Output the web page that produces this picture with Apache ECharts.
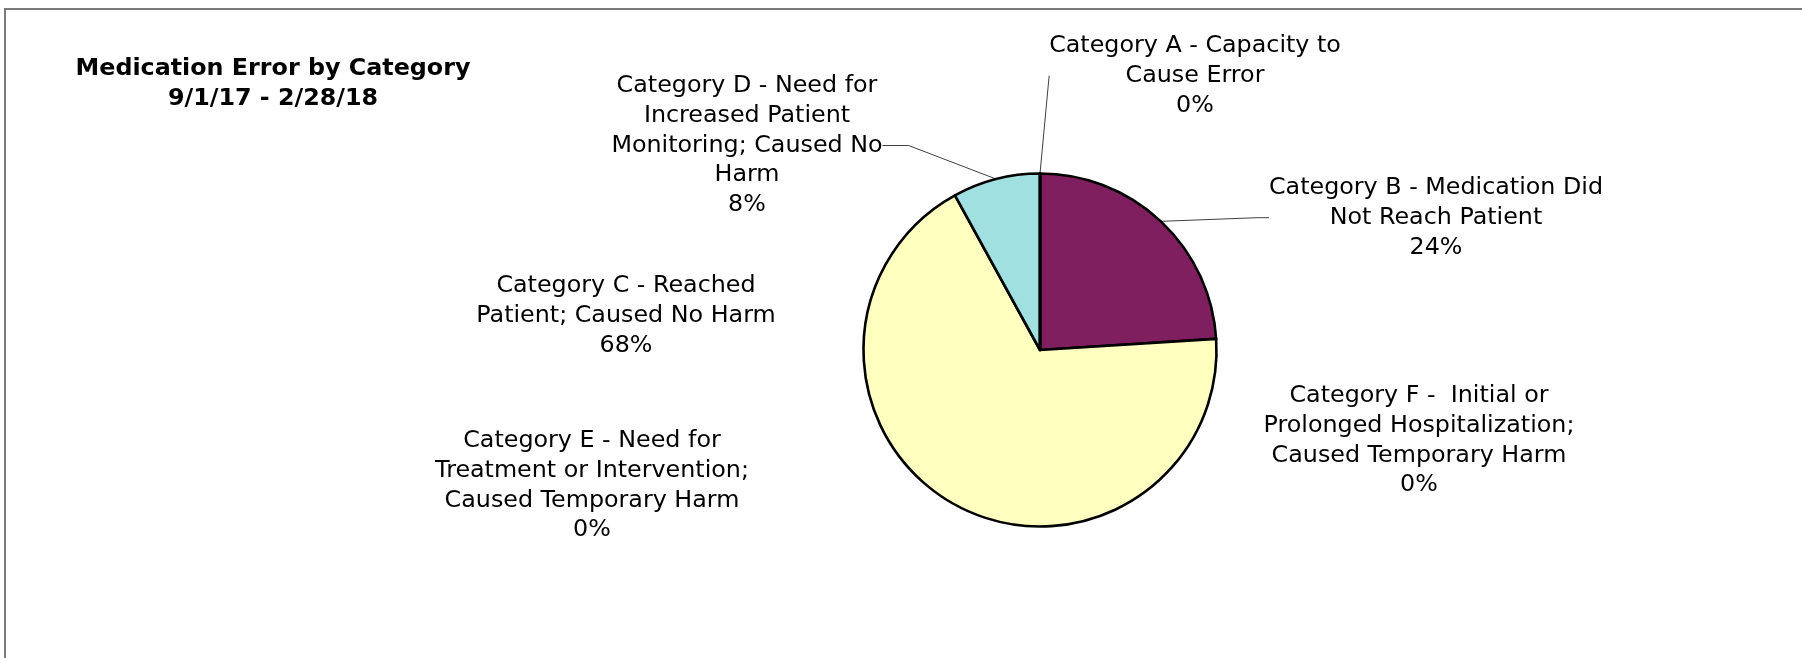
<!DOCTYPE html>
<html>
<head>
<meta charset="utf-8">
<script src="https://cdn.jsdelivr.net/npm/echarts@6/dist/echarts.min.js"></script>
<style>
  html, body { margin: 0; padding: 0; background: #ffffff; }
  #chart { width: 1802px; height: 658px; }
</style>
</head>
<body>
<div id="chart"></div>
<script>
// ---- data ----
const titleLines = ['Medication Error by Category', '9/1/17 - 2/28/18'];
const categories = [
  'Category A - Capacity to\nCause Error',
  'Category B - Medication Did\nNot Reach Patient',
  'Category C - Reached\nPatient; Caused No Harm',
  'Category D - Need for\nIncreased Patient\nMonitoring; Caused No\nHarm',
  'Category E - Need for\nTreatment or Intervention;\nCaused Temporary Harm',
  'Category F -  Initial or\nProlonged Hospitalization;\nCaused Temporary Harm'
];
const percentValues = [0, 24, 68, 8, 0, 0];
const sliceColors = ['#9999ff', '#7f1f5f', '#ffffc0', '#a0e0e0', '#ff8080', '#0066cc'];
const showLeader = [true, true, false, true, false, false];
const leaderStub = [0, 12, 0, 26, 0, 0];

// ---- layout (label anchor: centre x, top y) ----
const labelAnchors = [
  [1195, 31],
  [1436, 173],
  [626, 271],
  [747, 71],
  [592, 426],
  [1419, 381]
];

const chart = echarts.init(document.getElementById('chart'), null, { renderer: 'canvas' });

const seriesData = categories.map((name, i) => ({
  name: name,
  value: percentValues[i],
  itemStyle: { color: sliceColors[i] },
  labelLine: { show: showLeader[i], length: 0, length2: leaderStub[i] }
}));

chart.setOption({
  animation: false,
  backgroundColor: '#ffffff',
  graphic: [
    {
      type: 'rect',
      silent: true,
      shape: { x: 5, y: 9, width: 1900, height: 1000 },
      style: { fill: 'none', stroke: '#7a7a7a', lineWidth: 2 }
    },
    {
      type: 'text',
      silent: true,
      x: 273,
      y: 54,
      style: {
        text: titleLines.join('\n'),
        align: 'center',
        verticalAlign: 'top',
        fontFamily: 'DejaVu Sans',
        fontWeight: 'bold',
        fontSize: 23.8,
        lineHeight: 30,
        fill: '#000000'
      }
    }
  ],
  series: [
    {
      type: 'pie',
      center: [1040, 350],
      radius: 176.5,
      startAngle: 90,
      clockwise: true,
      avoidLabelOverlap: false,
      minShowLabelAngle: 0,
      silent: true,
      itemStyle: { borderColor: '#000000', borderWidth: 2.6 },
      label: {
        show: true,
        position: 'outside',
        fontFamily: 'DejaVu Sans',
        fontSize: 23.8,
        lineHeight: 29.8,
        color: '#000000',
        formatter: p => p.name + '\n' + Math.round(p.percent) + '%'
      },
      labelLine: {
        show: true,
        smooth: false,
        lineStyle: { color: '#404040', width: 1 }
      },
      labelLayout: params => {
        const a = labelAnchors[params.dataIndex];
        return { x: a[0], y: a[1], align: 'center', verticalAlign: 'top' };
      },
      emphasis: { disabled: true },
      data: seriesData
    }
  ]
});
</script>
</body>
</html>
